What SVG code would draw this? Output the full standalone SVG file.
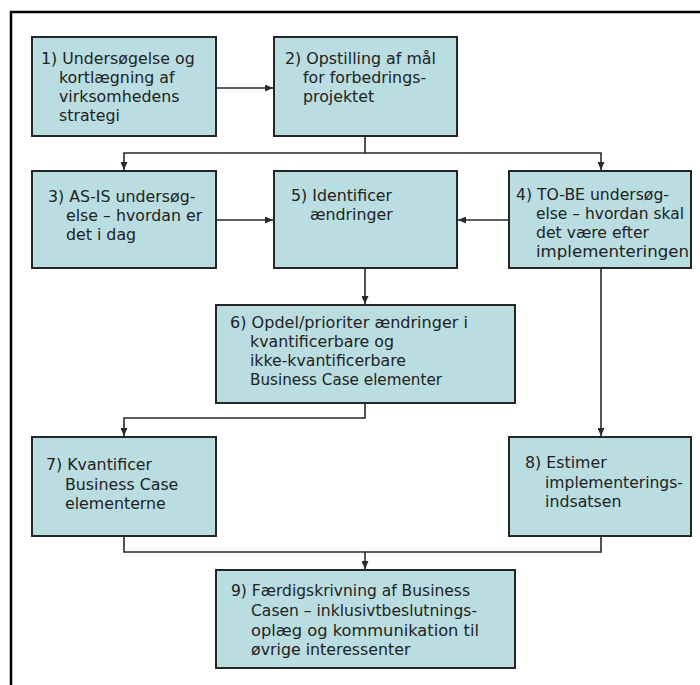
<svg xmlns="http://www.w3.org/2000/svg" width="700" height="685" viewBox="0 0 700 685">
  <defs>
    <marker id="arrow" viewBox="0 0 8 7" refX="8" refY="3.5" markerWidth="8" markerHeight="7" markerUnits="userSpaceOnUse" orient="auto">
      <path d="M0,0 L8,3.5 L0,7 z" fill="#2a2a2a"/>
    </marker>
    <style>
      .box { fill: #b9dde0; stroke: #262626; stroke-width: 2; }
      .lbl { font-family: "DejaVu Sans", "Open Sans", sans-serif; font-size: 15.8px; fill: #222222; }
      .conn path { fill: none; stroke: #2a2a2a; stroke-width: 1.6; }
      .arr { marker-end: url(#arrow); }
    </style>
  </defs>

  <rect width="700" height="685" fill="#ffffff"/>
  <!-- outer frame, open to the right and bottom -->
  <path d="M11,700 V12 H700" fill="none" stroke="#000" stroke-width="2.5"/>

  <g class="conn" id="connectors">
    <path class="arr" d="M216,88 H273"/>
    <path class="arr" d="M365,136 V153 H124 V170"/>
    <path class="arr" d="M365,153 H601 V170"/>
    <path class="arr" d="M216,220 H273"/>
    <path class="arr" d="M509,220 H458"/>
    <path class="arr" d="M365,268 V304"/>
    <path class="arr" d="M365,403 V418 H124 V436"/>
    <path class="arr" d="M601,268 V436"/>
    <path class="arr" d="M124,536 V552 H365 V569"/>
    <path d="M601,536 V552 H365"/>
  </g>

  <g id="n1">
    <rect class="box" x="32" y="37" width="184" height="99"/>
    <text class="lbl"><tspan x="41" y="64">1) Undersøgelse og</tspan><tspan x="59" y="83">kortlægning af</tspan><tspan x="59" y="102">virksomhedens</tspan><tspan x="59" y="121">strategi</tspan></text>
  </g>

  <g id="n2">
    <rect class="box" x="274" y="37" width="183" height="99"/>
    <text class="lbl"><tspan x="285" y="64" textLength="151" lengthAdjust="spacingAndGlyphs">2) Opstilling af mål</tspan><tspan x="303" y="83">for forbedrings-</tspan><tspan x="303" y="102">projektet</tspan></text>
  </g>

  <g id="n3">
    <rect class="box" x="32" y="171" width="184" height="97"/>
    <text class="lbl"><tspan x="48" y="202">3) AS-IS undersøg-</tspan><tspan x="66" y="221">else – hvordan er</tspan><tspan x="66" y="240">det i dag</tspan></text>
  </g>

  <g id="n5">
    <rect class="box" x="274" y="171" width="183" height="97"/>
    <text class="lbl"><tspan x="291" y="201">5) Identificer</tspan><tspan x="310" y="220">ændringer</tspan></text>
  </g>

  <g id="n4">
    <rect class="box" x="509" y="171" width="182" height="97"/>
    <text class="lbl"><tspan x="516" y="200" textLength="153" lengthAdjust="spacingAndGlyphs">4) TO-BE undersøg-</tspan><tspan x="536" y="219" textLength="148" lengthAdjust="spacingAndGlyphs">else – hvordan skal</tspan><tspan x="536" y="238" textLength="113" lengthAdjust="spacingAndGlyphs">det være efter</tspan><tspan x="536" y="257" textLength="153" lengthAdjust="spacingAndGlyphs">implementeringen</tspan></text>
  </g>

  <g id="n6">
    <rect class="box" x="216" y="305" width="299" height="98"/>
    <text class="lbl"><tspan x="230" y="328" textLength="238" lengthAdjust="spacingAndGlyphs">6) Opdel/prioriter ændringer i</tspan><tspan x="250" y="347" textLength="144" lengthAdjust="spacingAndGlyphs">kvantificerbare og</tspan><tspan x="250" y="366" textLength="156" lengthAdjust="spacingAndGlyphs">ikke-kvantificerbare</tspan><tspan x="250" y="385" textLength="192" lengthAdjust="spacingAndGlyphs">Business Case elementer</tspan></text>
  </g>

  <g id="n7">
    <rect class="box" x="32" y="437" width="184" height="99"/>
    <text class="lbl"><tspan x="46" y="470">7) Kvantificer</tspan><tspan x="65" y="490">Business Case</tspan><tspan x="65" y="509">elementerne</tspan></text>
  </g>

  <g id="n8">
    <rect class="box" x="509" y="437" width="182" height="99"/>
    <text class="lbl"><tspan x="525" y="468">8) Estimer</tspan><tspan x="545" y="488" textLength="138" lengthAdjust="spacingAndGlyphs">implementerings-</tspan><tspan x="545" y="507">indsatsen</tspan></text>
  </g>

  <g id="n9">
    <rect class="box" x="216" y="570" width="299" height="98"/>
    <text class="lbl"><tspan x="231" y="596" textLength="239" lengthAdjust="spacingAndGlyphs">9) Færdigskrivning af Business</tspan><tspan x="251" y="616" textLength="226" lengthAdjust="spacingAndGlyphs">Casen – inklusivtbeslutnings-</tspan><tspan x="251" y="636" textLength="228" lengthAdjust="spacingAndGlyphs">oplæg og kommunikation til</tspan><tspan x="251" y="655">øvrige interessenter</tspan></text>
  </g>
</svg>
